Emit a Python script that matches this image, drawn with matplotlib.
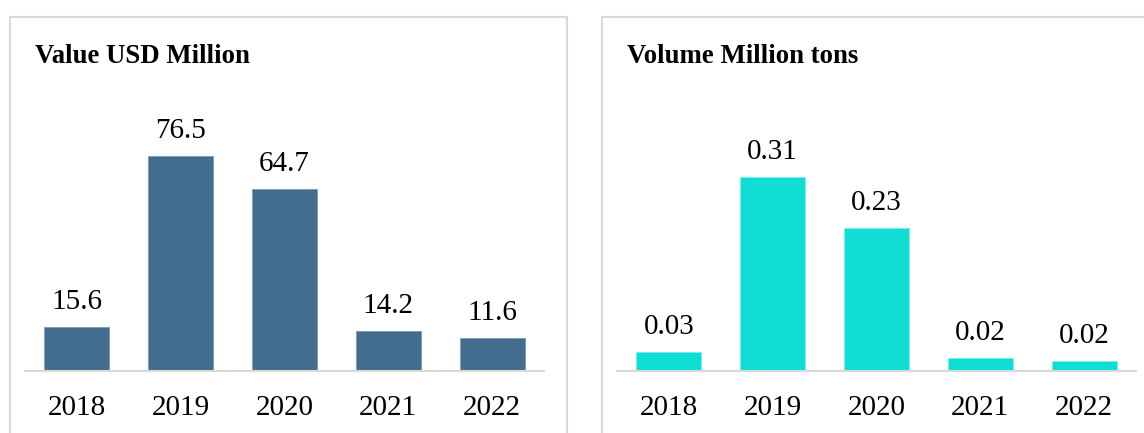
import numpy as np
import matplotlib.pyplot as plt
from matplotlib.patches import Rectangle

plt.rcParams['font.family'] = ['Liberation Serif', 'DejaVu Serif']

years = ['2018', '2019', '2020', '2021', '2022']
value_usd = [15.6, 76.5, 64.7, 14.2, 11.6]
volume_tons = [0.03, 0.31, 0.228, 0.021, 0.016]
volume_labels = ['0.03', '0.31', '0.23', '0.02', '0.02']

W, H = 1144, 433
fig = plt.figure(figsize=(W / 100, H / 100), dpi=100)

frame_col = '#d9d9d9'
# panel frames (left one and right one run off the picture edges)
fig.patches.append(Rectangle((10 / W, -0.1), 557 / W, 1.1 - 17 / H, transform=fig.transFigure,
                             fill=False, ec=frame_col, lw=1.5))
fig.patches.append(Rectangle((602 / W, -0.1), 600 / W, 1.1 - 17 / H, transform=fig.transFigure,
                             fill=False, ec=frame_col, lw=1.5))


def panel(left_px, vals, labels, color, edge, ymax, title):
    ax = fig.add_axes([left_px / W, 62 / H, 519 / W, 281 / H])
    x = np.arange(len(years))
    ax.bar(x, vals, width=0.626, color=color, edgecolor=edge, linewidth=0.7)
    ax.set_xlim(-0.5, len(years) - 0.5)
    ax.set_ylim(0, ymax)
    for s in ['top', 'right', 'left']:
        ax.spines[s].set_visible(False)
    ax.spines['bottom'].set_color(frame_col)
    ax.spines['bottom'].set_linewidth(1.5)
    ax.set_yticks([])
    ax.set_xticks(x)
    ax.set_xticklabels(years, fontsize=21)
    ax.tick_params(axis='x', length=0, pad=17)
    for xi, v, lab in zip(x, vals, labels):
        ax.annotate(lab, (xi, v), xytext=(0, 13), textcoords='offset points',
                    ha='center', va='baseline', fontsize=21)
    fig.text((left_px + 10) / W, (H - 63) / H, title, fontsize=19.3, fontweight='bold',
             ha='left', va='baseline')
    return ax


panel(25, value_usd, [f'{v:.1f}' for v in value_usd], '#436d8f', '#7f9fba', 100,
      'Value USD Million')
panel(617, volume_tons, volume_labels, '#10ddd3', '#7deee8', 0.449,
      'Volume Million tons')

fig.savefig('out.png', dpi=100)
